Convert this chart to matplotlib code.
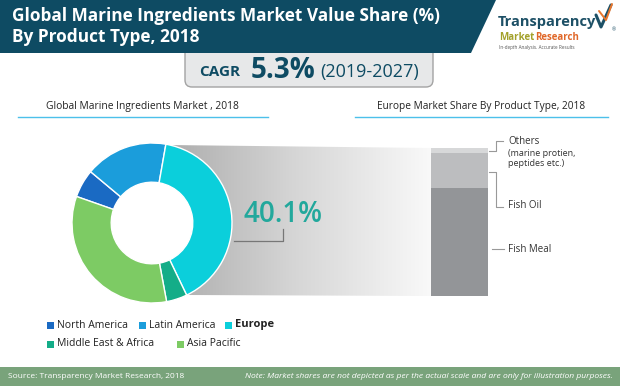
import numpy as np
import matplotlib
matplotlib.use("Agg")
import matplotlib.pyplot as plt
from matplotlib.patches import Polygon, Rectangle, FancyBboxPatch
from matplotlib.colors import LinearSegmentedColormap

# --- data ---
regions = ["North America", "Latin America", "Europe", "Middle East & Africa", "Asia Pacific"]
region_share = [5.7, 16.7, 40.1, 4.2, 33.3]
region_colors = ["#1a6ac3", "#1b9ddb", "#0bcfdb", "#14ad88", "#7dcb64"]

products = ["Fish Meal", "Fish Oil", "Others"]
europe_share = [73.0, 23.5, 3.5]
product_colors = ["#939598", "#bcbdbf", "#d7d8d9"]

FONT = ["Open Sans", "DejaVu Sans"]
TEAL = "#0e4b63"

W, H = 620, 386
fig = plt.figure(figsize=(6.2, 3.86), dpi=100)
bg = fig.add_axes([0, 0, 1, 1])


def px_axes(x0, y0, x1, y1):
    # axes placed by pixel box (y measured from the top)
    return fig.add_axes([x0 / W, 1 - y1 / H, (x1 - x0) / W, (y1 - y0) / H])


# gradient wedge between the Europe slice and the bar
grad = np.linspace(0, 1, 256).reshape(1, -1)
cmap = LinearSegmentedColormap.from_list("fade", ["#aaaaaa", "#d6d6d6", "#f9f9f9"])
im = bg.imshow(grad, extent=[160, 431, 300, 140], cmap=cmap, aspect="auto", zorder=1)
wedge = Polygon([(167, 145), (431, 148), (431, 296), (187, 295), (200, 223)],
                closed=True, transform=bg.transData)
im.set_clip_path(wedge)

# CAGR box (top hidden under the header band)
bg.add_patch(FancyBboxPatch((185, 40), 248, 47, boxstyle="round,pad=0,rounding_size=7",
                            fc="#e7e8e9", ec="#a3a3a3", lw=1, zorder=2))
# header band
bg.add_patch(Polygon([(0, 0), (496, 0), (471, 53), (0, 53)], closed=True,
                     fc=TEAL, ec="none", zorder=3))
bg.text(12, 16, "Global Marine Ingredients Market Value Share (%)", color="white",
        fontsize=12.4, fontweight="bold", family=FONT, va="center", zorder=4)
bg.text(12, 37, "By Product Type, 2018", color="white",
        fontsize=12.4, fontweight="bold", family=FONT, va="center", zorder=4)

# logo
bg.text(498, 22, "Transparency", color="#1d5066", fontsize=10.5, fontweight="bold",
        family=FONT, va="center", zorder=4)
mk = bg.text(499, 37, "Market", color="#a3a12b", fontsize=7, fontweight="bold",
             family=FONT, va="center", zorder=4)
bg.annotate("Research", xy=(1, 0.5), xycoords=mk, xytext=(0.3, 0), textcoords="offset points",
            color="#e0682a", fontsize=7, fontweight="bold", family=FONT, va="center", zorder=4)
bg.text(499, 48, "In-depth Analysis. Accurate Results", color="#555555", fontsize=3.3,
        family=FONT, va="center", zorder=4)
bg.plot([596, 601, 611], [15, 27, 5], color="#1d5066", lw=2.2, solid_capstyle="round", zorder=4)
bg.plot([599, 606, 612], [11, 20, 4], color="#e8772e", lw=1.4, solid_capstyle="round", zorder=4)
bg.text(612, 30, "®", color="#1d5066", fontsize=3.5, family=FONT, va="center", zorder=4)

# CAGR text
bg.text(219.5, 72, "CAGR", color=TEAL, fontsize=11, fontweight="bold", family=FONT,
        ha="center", va="center", zorder=4)
bg.text(283, 70, "5.3%", color=TEAL, fontsize=20, fontweight="bold", family=FONT,
        ha="center", va="center", zorder=4)
bg.text(369.5, 72, "(2019-2027)", color=TEAL, fontsize=13, family=FONT,
        ha="center", va="center", zorder=4)

# panel subtitles
bg.text(142, 106, "Global Marine Ingredients Market , 2018", color="#222222",
        fontsize=7.4, family=FONT, ha="center", va="center")
bg.plot([18, 268], [117, 117], color="#4cc0ea", lw=1)
bg.text(481, 106, "Europe Market Share By Product Type, 2018", color="#222222",
        fontsize=7.3, family=FONT, ha="center", va="center")
bg.plot([355, 608], [117, 117], color="#4cc0ea", lw=1)

# 40.1% callout
bg.text(283, 214, f"{region_share[2]}%", color="#22a89c", fontsize=20, fontweight="semibold",
        family=FONT, ha="center", va="center", zorder=4)
bg.plot([234, 283, 283], [241, 241, 229], color="#777777", lw=0.9, zorder=4)

# bar leader lines and labels
lc = "#999999"
bg.plot([489, 496, 496, 503], [151, 151, 141, 141], color=lc, lw=0.8)
bg.plot([489, 496, 496, 503], [172, 172, 207, 207], color=lc, lw=0.8)
bg.plot([492, 504], [249, 249], color=lc, lw=0.8)
bg.text(508, 141, products[2], fontsize=7, family=FONT, color="#333333", va="center")
bg.text(508, 153, "(marine protien,", fontsize=6.5, family=FONT, color="#333333", va="center")
bg.text(508, 163, "peptides etc.)", fontsize=6.5, family=FONT, color="#333333", va="center")
bg.text(508, 206, products[1], fontsize=7, family=FONT, color="#333333", va="center")
bg.text(508, 249, products[0], fontsize=7, family=FONT, color="#333333", va="center")

# legend
legend_pos = [(47, 325), (139, 325), (225, 325), (47, 344), (177, 344)]
for name, col, (lx, ly) in zip(regions, region_colors, legend_pos):
    bg.add_patch(Rectangle((lx, ly - 3.5), 7, 7, fc=col, ec="none"))
    bold = name == "Europe"
    bg.text(lx + 10, ly, name, fontsize=8 if bold else 7.5, family=FONT,
            fontweight="bold" if bold else "normal", color="#222222", va="center")

# footer
bg.add_patch(Rectangle((0, 367), W, 19, fc="#79a37b", ec="none"))
bg.text(8, 377, "Source: Transparency Market Research, 2018", color="white",
        fontsize=6.0, family=FONT, va="center")
bg.text(613, 377, "Note: Market shares are not depicted as per the actual scale and are only for illustration purposes.",
        color="white", fontsize=6.1, family=FONT, style="italic", ha="right", va="center")

bg.set_xlim(0, W)
bg.set_ylim(H, 0)
bg.axis("off")

# donut
ax_pie = px_axes(72, 143, 232, 303)
start = 80 + (region_share[0] + region_share[1]) * 3.6
ax_pie.pie(region_share, colors=region_colors, startangle=start, counterclock=False,
           radius=1, wedgeprops=dict(width=0.49, edgecolor="white", linewidth=1))
ax_pie.set_xlim(-1, 1)
ax_pie.set_ylim(-1, 1)
ax_pie.set_aspect("equal")
ax_pie.axis("off")

# stacked bar for Europe
ax_bar = px_axes(431, 148, 488, 296)
bottom = 0
for val, col in zip(europe_share, product_colors):
    ax_bar.bar(0, val, bottom=bottom, width=1, color=col, linewidth=0)
    bottom += val
ax_bar.set_xlim(-0.5, 0.5)
ax_bar.set_ylim(0, 100)
ax_bar.axis("off")

fig.savefig("out.png", dpi=100, facecolor="white")
